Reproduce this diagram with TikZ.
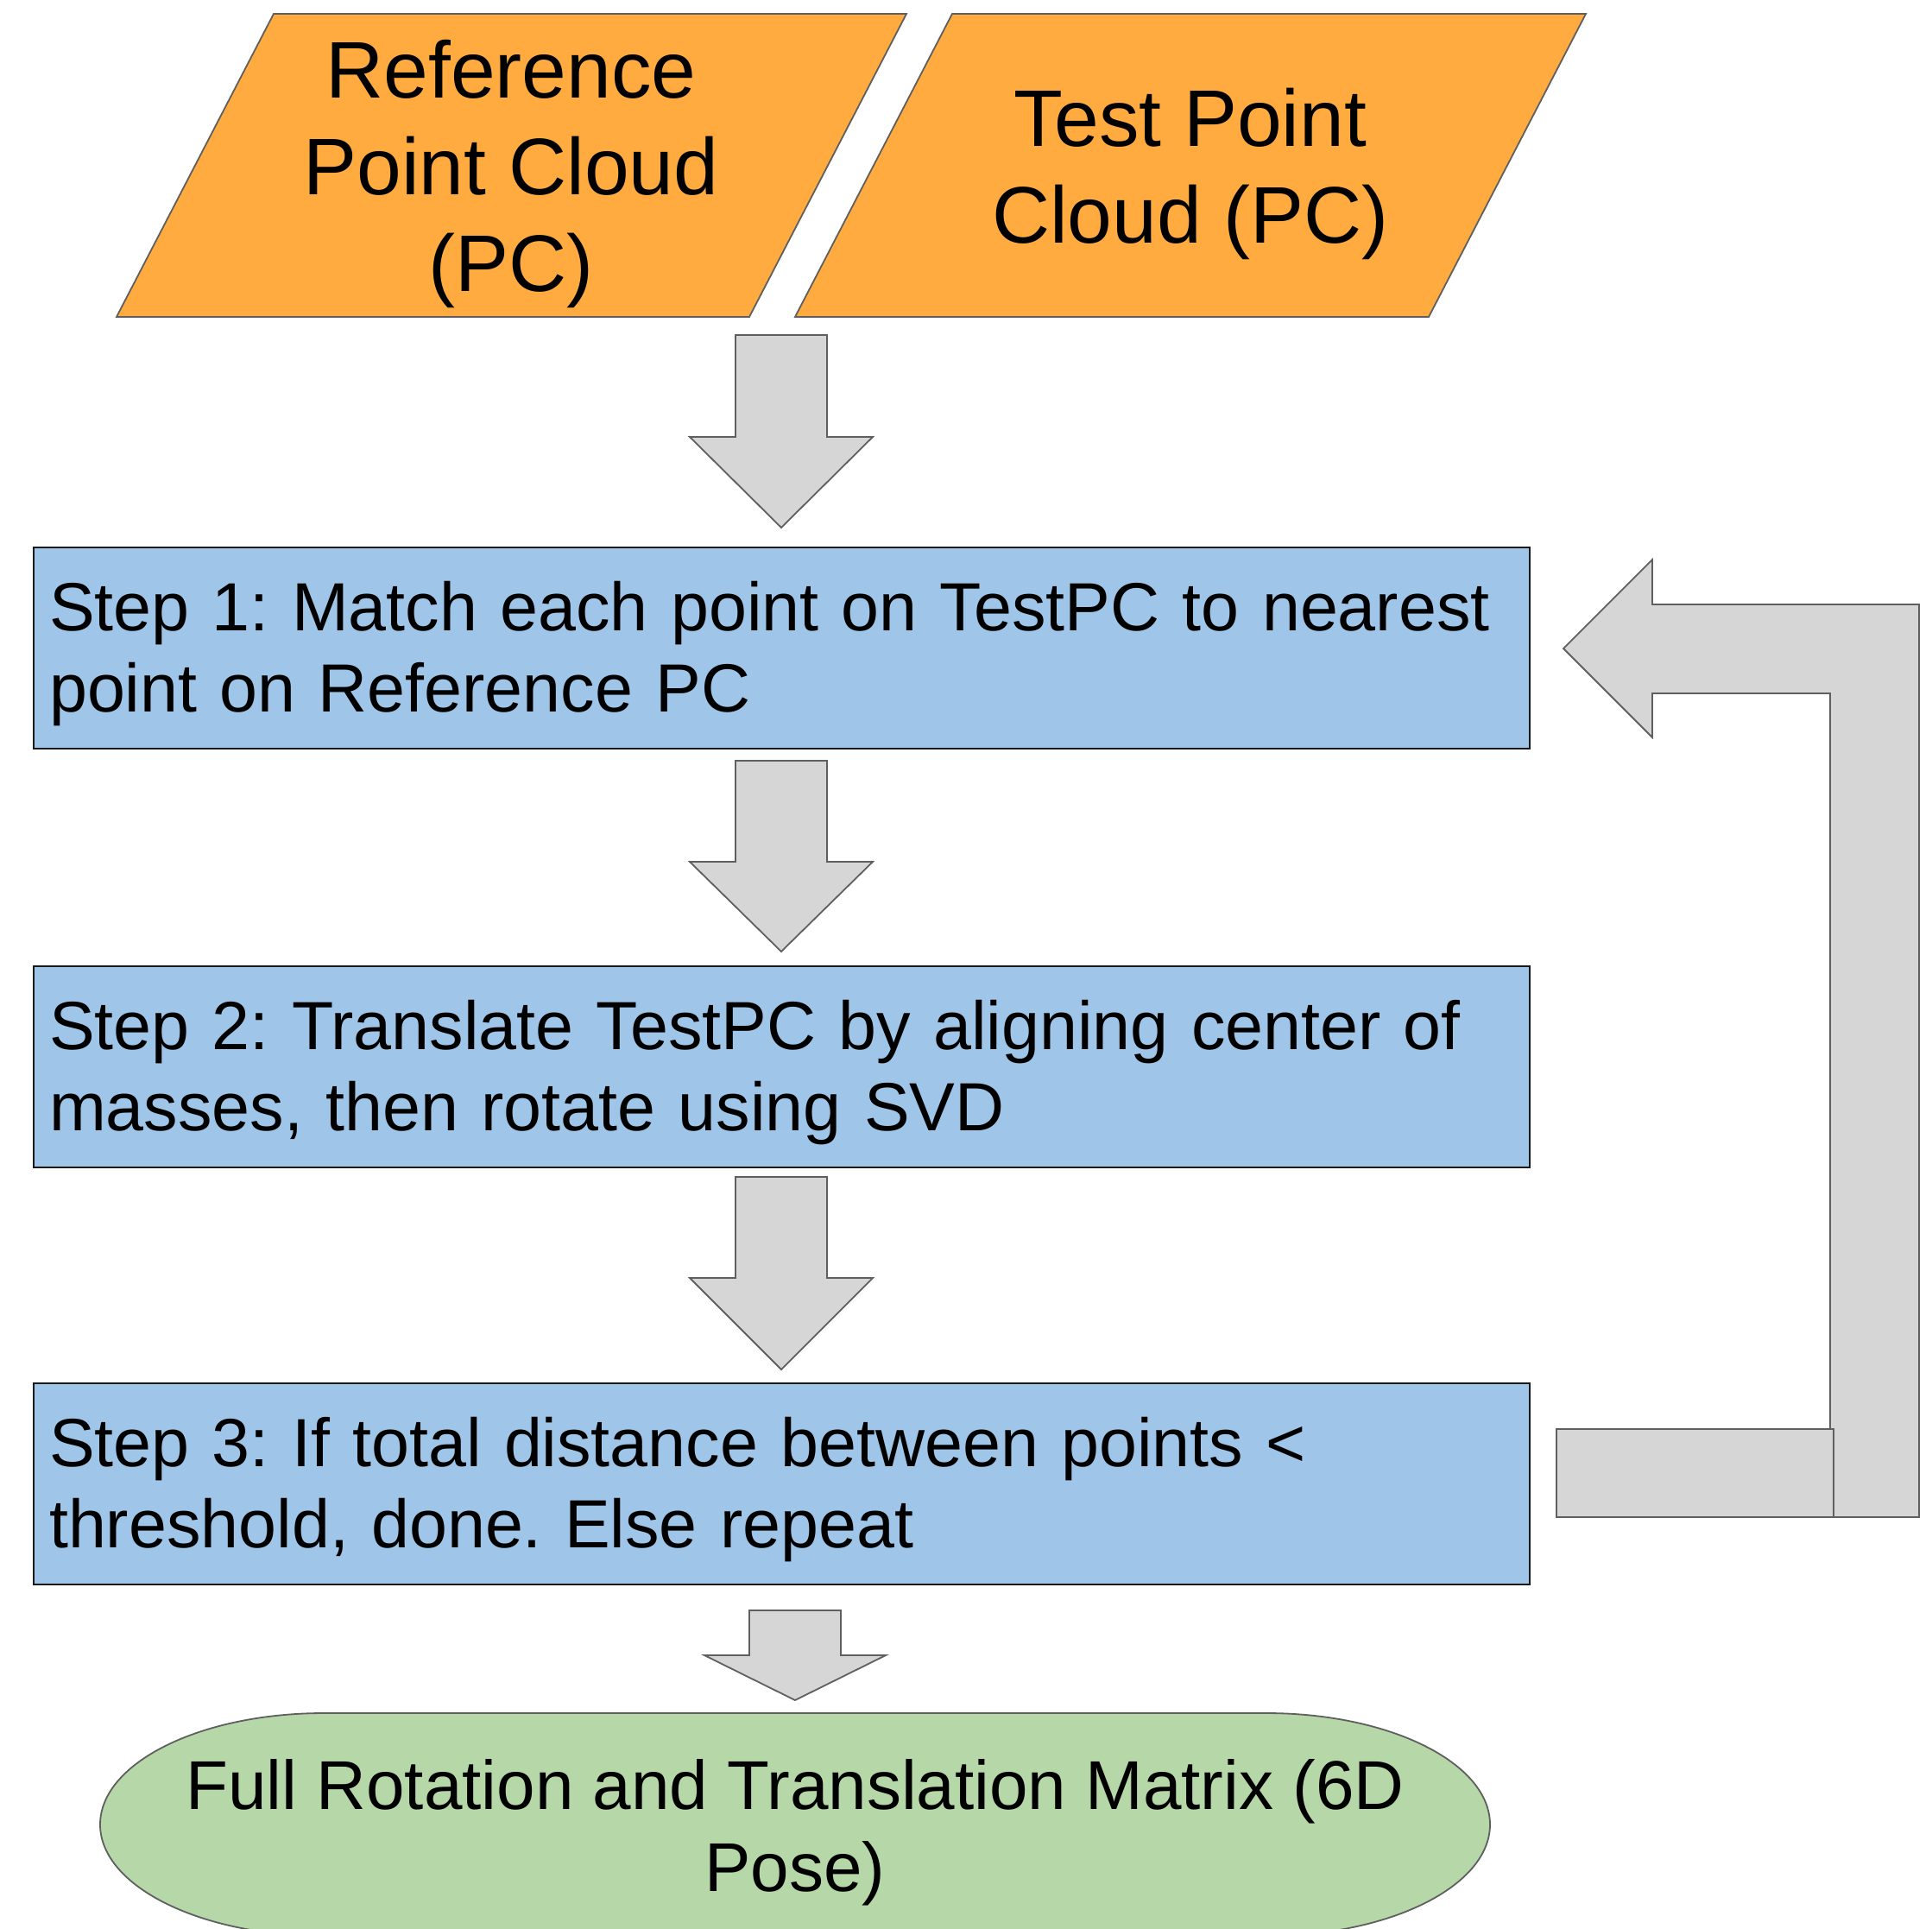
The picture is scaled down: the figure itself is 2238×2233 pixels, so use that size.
\documentclass[tikz,border=0pt]{standalone}
\usepackage{fontspec}
\setmainfont{Liberation Sans}

\definecolor{orangefill}{HTML}{FFAB40}
\definecolor{bluefill}{HTML}{9FC5E8}
\definecolor{greenfill}{HTML}{B6D7A8}
\definecolor{arrowfill}{HTML}{D6D6D6}
\definecolor{edgegray}{HTML}{5F5F5F}

% invisible strut that lowers the first line of a step box
\newcommand\firstlinestrut{\rule{0pt}{70pt}}
% text setting inside the step boxes
\newcommand\stepfont{\fontsize{79pt}{94pt}\selectfont\frenchspacing\hyphenpenalty=10000\relax}

\begin{document}
\begin{tikzpicture}[x=1pt,y=-1pt,
  inputshape/.style={fill=orangefill, draw=edgegray, line width=1.8pt, line join=miter},
  inputtext/.style={font=\fontsize{93pt}{112pt}\selectfont, align=center, inner sep=0pt},
  stepbox/.style={rectangle, fill=bluefill, draw=black!90, line width=2.2pt,
    anchor=north west, minimum width=1733pt, minimum height=233pt,
    text width=1697pt, inner xsep=18pt, inner ysep=0pt, align=left,
    font=\stepfont},
  blockarrow/.style={fill=arrowfill, draw=edgegray, line width=1.8pt, line join=miter},
  endshape/.style={fill=greenfill, draw=edgegray, line width=1.8pt},
  endtext/.style={font=\fontsize{80pt}{95pt}\selectfont, align=center, inner sep=0pt},
]
\useasboundingbox (0,0) rectangle (2238,2233);
\clip (0,0) rectangle (2238,2233);
\fill[white] (0,0) rectangle (2238,2233);

% input data (parallelograms)
\filldraw[inputshape] (317,16) -- (1050,16) -- (868,367) -- (135,367) -- cycle;
\node[inputtext] (refpc) at (592,201) {Reference\\Point Cloud\\(PC)};
\filldraw[inputshape] (1103,16) -- (1837,16) -- (1655,367) -- (921,367) -- cycle;
\node[inputtext] (testpc) at (1379,201) {Test Point\\Cloud (PC)};

% downward block arrows
\filldraw[blockarrow] (852,388) -- (958,388) -- (958,506) -- (1011,506) -- (905,611) -- (799,506) -- (852,506) -- cycle;
\filldraw[blockarrow] (852,881) -- (958,881) -- (958,998) -- (1011,998) -- (905,1102) -- (799,998) -- (852,998) -- cycle;
\filldraw[blockarrow] (852,1363) -- (958,1363) -- (958,1480) -- (1011,1480) -- (905,1586) -- (799,1480) -- (852,1480) -- cycle;
\filldraw[blockarrow] (868,1865) -- (974,1865) -- (974,1917) -- (1026,1917) -- (921,1969) -- (816,1917) -- (868,1917) -- cycle;

% processing steps
\node[stepbox] (step1) at (38,633) {\firstlinestrut Step 1: Match each point on TestPC to nearest\\point on Reference PC};
\node[stepbox] (step2) at (38,1118) {\firstlinestrut Step 2: Translate TestPC by aligning center of\\masses, then rotate using SVD};
\node[stepbox] (step3) at (38,1601) {\firstlinestrut Step 3: If total distance between points <\\threshold, done. Else repeat};

% feedback loop arrow from step 3 back to step 1
\filldraw[blockarrow] (1811,751) -- (1914,648) -- (1914,700) -- (2223,700) -- (2223,1757)
  -- (2120,1757) -- (2120,803) -- (1914,803) -- (1914,854) -- cycle;
\filldraw[blockarrow] (1803,1655) rectangle (2124,1757);

% result (terminator)
\filldraw[endshape] (375,1984) -- (1467,1984)
  arc[start angle=90, end angle=-90, x radius=259pt, y radius=129pt]
  -- (375,2242)
  arc[start angle=270, end angle=90, x radius=259pt, y radius=129pt] -- cycle;
\node[endtext] (pose) at (921,2122) {Full Rotation and Translation Matrix (6D\\Pose)};
\end{tikzpicture}
\end{document}
